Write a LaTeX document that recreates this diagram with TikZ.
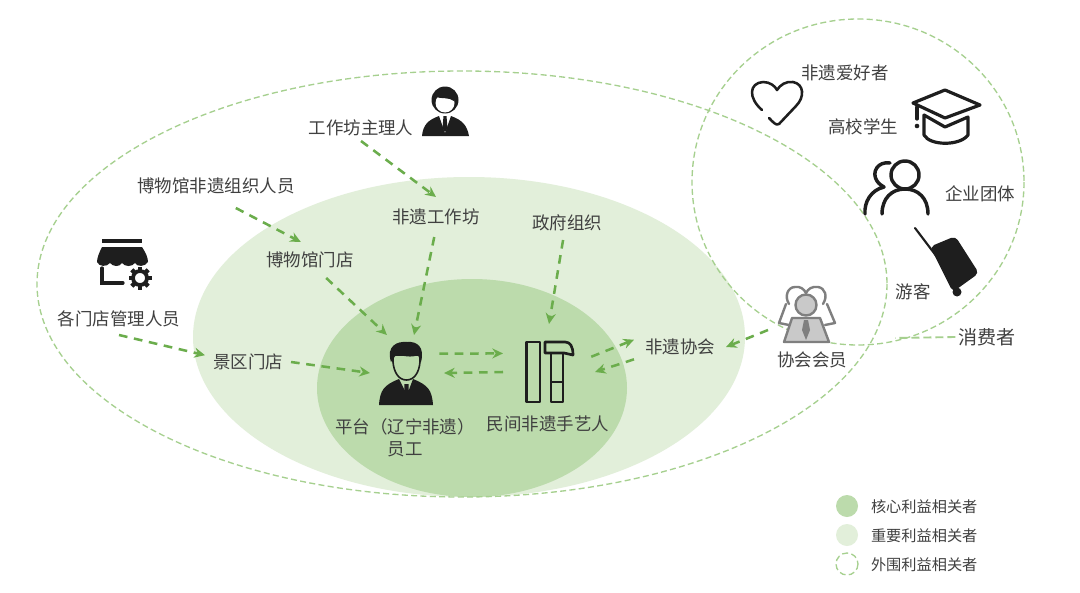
\documentclass[tikz,border=0pt]{standalone}
\usepackage{fontspec}
\setmainfont{Noto Sans CJK SC}
\usetikzlibrary{arrows.meta}
\definecolor{midg}{HTML}{E2EFDA}
\definecolor{inng}{HTML}{BCDBAC}
\definecolor{dashg}{HTML}{A6D08F}
\definecolor{arrg}{HTML}{6BAD4C}
\definecolor{txt}{HTML}{404040}
\definecolor{ink}{HTML}{1E1E1E}
\definecolor{memg}{HTML}{7F7F7F}
\definecolor{memf}{HTML}{C9C9C9}
\tikzset{
  lbl/.style={font=\fontsize{13.1}{15}\selectfont,text=txt,inner sep=0pt,outer sep=0pt,align=center},
  legendtxt/.style={font=\fontsize{11.4}{13}\selectfont,text=txt,inner sep=0pt,outer sep=0pt},
  iconbox/.style={inner sep=0pt,outer sep=0pt},
  flow/.style={draw=arrg,line width=1.9pt,dash pattern=on 6.5pt off 5pt,-{Stealth[length=8pt,width=7.5pt]}},
  zone/.style={draw=dashg,line width=1pt,dash pattern=on 4.5pt off 2.5pt},
  iconline/.style={draw=ink,line width=2.2pt,line cap=round,line join=round,fill=none},
  memline/.style={draw=memg,line width=1.8pt,line join=round,line cap=round}
}
\begin{document}
\begin{tikzpicture}[x=0.75pt,y=-0.75pt]
\useasboundingbox (0,0) rectangle (1080,592);
\fill[white] (0,0) rectangle (1080,592);
% zones
\fill[midg] (469,337) ellipse [x radius=276,y radius=160];
\fill[inng] (472,388) ellipse [x radius=155,y radius=109];
\draw[zone] (462,284) ellipse [x radius=425,y radius=213];
\draw[zone] (858,182) ellipse [x radius=166,y radius=163];
% labels (connected)
\node[lbl,minimum height=19.5pt] (wsmgr) at (361,128) {工作坊主理人};
\node[lbl,minimum height=30pt] (wsop) at (436,217) {非遗工作坊};
\node[lbl,minimum height=33pt,minimum width=120pt] (org) at (216,186) {博物馆非遗组织人员};
\node[lbl,minimum height=27pt] (mus) at (310,260) {博物馆门店};
\node[lbl,minimum height=25.5pt] (gov) at (567,223) {政府组织};
\node[lbl,minimum height=24pt] (mgr) at (119,319) {各门店管理人员};
\node[lbl,minimum width=64.5pt,minimum height=22pt] (shop) at (248,362) {景区门店};
\node[lbl,minimum width=69pt,minimum height=27pt] (assoc) at (680,347) {非遗协会};
\node[iconbox,minimum width=57pt,minimum height=57pt] (staff) at (408,373) {};
\node[iconbox,minimum width=69pt,minimum height=72pt] (craft) at (549,372) {};
\node[iconbox,minimum width=58.5pt,minimum height=37.5pt] (member) at (807,330) {};
\node[font=\fontsize{14.3}{16}\selectfont,text=txt,inner sep=2pt] (cons) at (987,337) {消费者};
\coordinate (consEnd) at (895,338);
% other labels
\node[lbl] (l1) at (405,427) {平台（辽宁非遗）};
\node[lbl] (l2) at (405,449) {员工};
\node[lbl] (l3) at (548,424) {民间非遗手艺人};
\node[lbl] (l4) at (812,360) {协会会员};
\node[lbl] (l5) at (845,73) {非遗爱好者};
\node[lbl] (l6) at (863,127) {高校学生};
\node[lbl] (l7) at (980,194) {企业团体};
\node[lbl] (l8) at (913,292) {游客};
% connectors
\draw[flow] (wsmgr.south) -- (wsop.north);
\draw[flow] (wsop.265) -- (staff.81);
\draw[flow] (org.-48) -- (mus.117);
\draw[flow] (mus.-48) -- (staff.119);
\draw[flow] (gov.257) -- (craft.north);
\draw[flow] (mgr.south) -- (shop.171);
\draw[flow] (shop.east) -- (staff.west);
\draw[flow,shorten <=-5pt] (staff.27) -- (craft.158);
\draw[flow,shorten >=-1.5pt] (craft.west) -- (staff.east);
\draw[flow,shorten <=-3pt] (craft.20) -- (assoc.171);
\draw[flow] (assoc.195) -- (craft.east);
\draw[flow] (member.west) -- (assoc.east);
\draw[draw=dashg,line width=1.4pt,dash pattern=on 6pt off 3pt] (cons.west) -- (consEnd);
% manager icon
\fill[ink] (445,100) circle [radius=13.5];
\fill[white] (445,103) circle [radius=9.5];
\fill[ink] (436,97) .. controls (441,99) and (449,97) .. (454,101) .. controls (454,92) and (448,89) .. (443,90) .. controls (438,91) and (436,93) .. (436,97) -- cycle;
\fill[ink] (422,136) .. controls (423,125) and (428,120) .. (439,116) -- (445,133) -- (451,116) .. controls (462,120) and (467,125) .. (469,136) -- cycle;
\fill[ink] (443.5,116) -- (446.5,116) -- (447.5,128) -- (445,132) -- (442.5,128) -- cycle;
% staff icon
\fill[ink] (379,405) .. controls (380,390) and (384,385) .. (399,379) -- (407,395) -- (413,379) .. controls (428,385) and (432,390) .. (433,405) -- cycle;
\fill[ink] (404.5,384) -- (408.5,384) -- (409,396) -- (406.5,401) -- (404,396) -- cycle;
\draw[draw=ink,line width=1.2pt,fill=inng] (393,355) -- (393,362) .. controls (394,373) and (399,380) .. (406.5,380) .. controls (414,380) and (419,373) .. (420,362) -- (420,355) -- cycle;
\fill[ink] (391,362) .. controls (386,346) and (397,341) .. (407,342) .. controls (417,341) and (425,347) .. (421,362) .. controls (420,360) and (419,358) .. (418,355) .. controls (412,358) and (402,356) .. (397,354) .. controls (395,356) and (393,359) .. (391,362) -- cycle;
% craft icon
\draw[iconline,line cap=butt,line width=2pt] (526.5,342) rectangle (540,402);
\draw[iconline,line cap=butt,line width=2pt] (551,353) -- (551,402) -- (563,402) -- (563,353);
\draw[iconline,line cap=butt,line width=2pt] (551,382) -- (563,382);
\draw[iconline,line cap=butt,line width=2pt] (545,342) -- (565,342) .. controls (570,342) and (573,346) .. (573,355) -- (564,353) -- (545,353) -- cycle;
% store icon
\draw[ink,line width=3pt] (102,241) -- (142,241);
\fill[ink] (102,247) -- (142,247) .. controls (146,253) and (148,258) .. (148,262) .. controls (145,267) and (137,267) .. (135,263) .. controls (132,267) and (125,267) .. (122,263) .. controls (120,267) and (113,267) .. (110,263) .. controls (107,267) and (99,267) .. (97,262) .. controls (97,258) and (99,253) .. (102,247) -- cycle;
\draw[ink,line width=2.4pt,line cap=round] (102,268) -- (102,283) -- (123,283);
\draw[ink,line width=2.8pt] (140,278) circle [radius=7];
\foreach \a in {0,45,...,315} {\draw[ink,line width=3.2pt] (140,278) ++(\a:7.5) -- ++(\a:4);}
% heart icon
\draw[iconline,line width=1.9pt] (762,110) .. controls (748,98) and (749,83) .. (763,82) .. controls (770,82) and (775,86) .. (777,90) .. controls (780,85) and (786,81) .. (793,82) .. controls (804,84) and (805,97) .. (796,106) -- (779,124) .. controls (776,126) and (773,122) .. (769,118);
% cap icon
\draw[iconline,line width=2.4pt] (913,103) -- (945,90) -- (980,105) -- (945,118) -- cycle;
\draw[iconline,line width=2.4pt] (924,115) -- (924,135) .. controls (930,146) and (960,146) .. (968,135) -- (968,117) -- (945,127) -- (924,115);
\draw[iconline,line width=2.4pt] (917,107) -- (917,119);
\fill[ink] (917,126) circle [radius=2.3];
% people icon
\draw[iconline,line width=2.6pt] (905,175) circle [radius=14];
\draw[iconline,line width=2.6pt] (882,214) .. controls (882,198) and (892,189) .. (905,189) .. controls (918,189) and (928,198) .. (928,214);
\draw[iconline,line width=2.6pt] (890,163) .. controls (878,161) and (871,172) .. (877,181) .. controls (879,184) and (882,186) .. (884,187) .. controls (871,190) and (864,202) .. (865,214);
% luggage icon
\draw[draw=ink,line width=1.6pt,line cap=round] (915,228) -- (937,257);
\filldraw[ink,line width=1pt,rounded corners=3pt] (931,247) -- (955,237) -- (978,273) -- (953,291) -- cycle;
\fill[ink] (957,292) circle [radius=4.5];
% member icon
\draw[memline] (789,304) .. controls (784,296) and (788,287) .. (795,287) .. controls (800,286) and (804,289) .. (806,293) .. controls (808,289) and (812,286) .. (818,287) .. controls (825,288) and (828,296) .. (823,304);
\draw[memline] (786,304) -- (779,323) -- (789,325);
\draw[memline] (827,304) -- (835,323) -- (825,325);
\draw[memline,fill=memf] (806,305) circle [radius=10.5];
\draw[memline,fill=memf] (792,318) -- (820,318) -- (829,342) -- (784,342) -- cycle;
\fill[memg] (804,320) -- (808,320) -- (810,330) -- (806,340) -- (802,330) -- cycle;
% legend
\fill[inng] (847,506) circle [radius=11];
\fill[midg] (847,535) circle [radius=11];
\draw[zone] (847,564) circle [radius=11];
\node[legendtxt,anchor=west] (k1) at (871,507) {核心利益相关者};
\node[legendtxt,anchor=west] (k2) at (871,536) {重要利益相关者};
\node[legendtxt,anchor=west] (k3) at (871,565) {外围利益相关者};
\end{tikzpicture}
\end{document}
